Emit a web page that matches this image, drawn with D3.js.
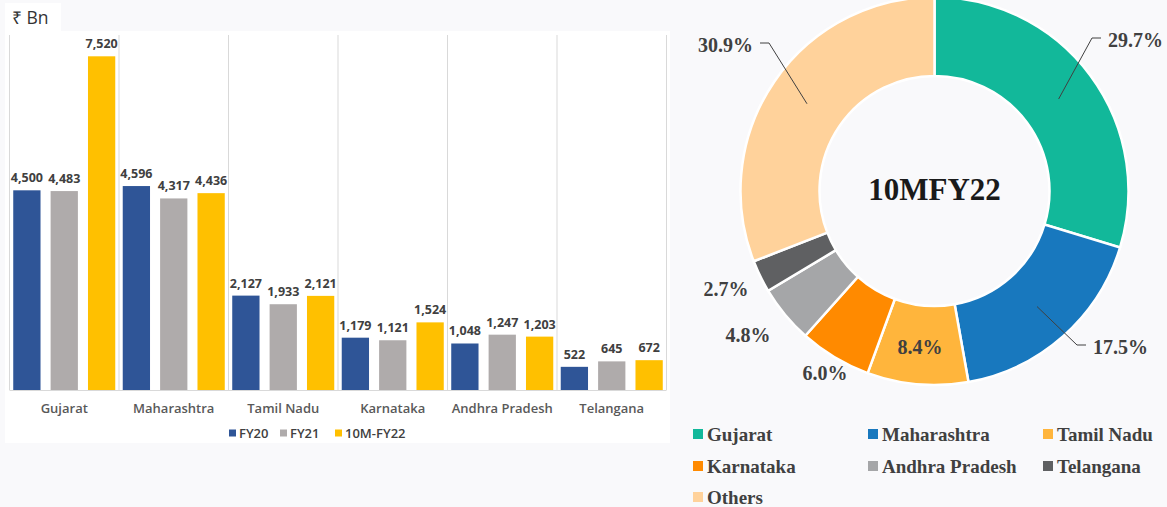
<!DOCTYPE html>
<html>
<head>
<meta charset="utf-8">
<script src="https://cdn.jsdelivr.net/npm/d3@7"></script>
<style>
  body { margin: 0; background: #f9f9fb; }
  #chart { width: 1167px; height: 507px; }
  .barLabel { font-family: "Open Sans", sans-serif; font-weight: 700; font-size: 12.5px; fill: #404040; }
  .catLabel { font-family: "Open Sans", sans-serif; font-weight: 600; font-size: 13px; fill: #595959; }
  .legendBar { font-family: "Open Sans", sans-serif; font-weight: 600; font-size: 13px; fill: #404040; }
  .pieText { font-family: "Liberation Serif", "Times New Roman", serif; font-weight: 700; fill: #404040; }
</style>
</head>
<body>
<div id="chart"></div>
<script>

// bar chart data (₹ Bn)
const states = ["Gujarat", "Maharashtra", "Tamil Nadu", "Karnataka", "Andhra Pradesh", "Telangana"];
const seriesNames = ["FY20", "FY21", "10M-FY22"];
const fy20 = [4500, 4596, 2127, 1179, 1048, 522];
const fy21 = [4483, 4317, 1933, 1121, 1247, 645];
const fy22 = [7520, 4436, 2121, 1524, 1203, 672];
const barColors = ["#2f5597", "#afabab", "#ffc000"];

// donut data (share of 10MFY22, %)
const shareNames = ["Gujarat", "Maharashtra", "Tamil Nadu", "Karnataka", "Andhra Pradesh", "Telangana", "Others"];
const shareValues = [29.7, 17.5, 8.4, 6.0, 4.8, 2.7, 30.9];
const shareColors = ["#12b89a", "#1878be", "#ffb53c", "#ff8a00", "#a5a6a8", "#5f6062", "#ffd29b"];

const width = 1167;
const height = 507;

const svg = d3.select("#chart")
  .append("svg")
  .attr("width", width)
  .attr("height", height);

/*
  LEFT: GROUPED BAR CHART
*/
svg.append("rect")
  .attr("x", 5).attr("y", 31)
  .attr("width", 665).attr("height", 412)
  .attr("fill", "#ffffff");

svg.append("rect")
  .attr("x", 5).attr("y", 3)
  .attr("width", 56).attr("height", 28)
  .attr("fill", "#ffffff");

svg.append("text")
  .attr("x", 12).attr("y", 24)
  .attr("font-family", "Open Sans, sans-serif")
  .attr("font-size", 17.5)
  .attr("fill", "#333333")
  .text("₹ Bn");

const x0 = d3.scaleBand()
  .domain(states)
  .range([9.5, 666.5])
  .paddingInner(0)
  .paddingOuter(0);

const x1 = d3.scaleBand()
  .domain(seriesNames)
  .range([0, x0.bandwidth()])
  .paddingInner(0.27)
  .paddingOuter(0.1);

const yScale = d3.scaleLinear()
  .domain([0, 8000])
  .range([390, 35]);

// vertical category separators
const sepXs = states.map(function (d) { return x0(d); }).concat([x0.range()[1]]);
svg.selectAll("line.sep")
  .data(sepXs)
  .enter()
  .append("line")
  .attr("class", "sep")
  .attr("x1", function (d) { return d; })
  .attr("x2", function (d) { return d; })
  .attr("y1", 35)
  .attr("y2", 390)
  .attr("stroke", "#d9d9d9")
  .attr("stroke-width", 1);

const barData = [];
states.forEach(function (s, i) {
  [fy20, fy21, fy22].forEach(function (arr, j) {
    barData.push({ state: s, series: seriesNames[j], value: arr[i], color: barColors[j] });
  });
});

svg.selectAll("rect.bar")
  .data(barData)
  .enter()
  .append("rect")
  .attr("class", "bar")
  .attr("x", function (d) { return x0(d.state) + x1(d.series); })
  .attr("y", function (d) { return yScale(d.value); })
  .attr("width", x1.bandwidth())
  .attr("height", function (d) { return yScale(0) - yScale(d.value); })
  .attr("fill", function (d) { return d.color; });

svg.selectAll("text.barLabel")
  .data(barData)
  .enter()
  .append("text")
  .attr("class", "barLabel")
  .attr("x", function (d) { return x0(d.state) + x1(d.series) + x1.bandwidth() / 2; })
  .attr("y", function (d) { return yScale(d.value) - 8; })
  .attr("text-anchor", "middle")
  .text(function (d) { return d3.format(",")(d.value); });

// baseline
svg.append("line")
  .attr("x1", 9.5).attr("x2", 666.5)
  .attr("y1", 390.5).attr("y2", 390.5)
  .attr("stroke", "#d9d9d9");

svg.selectAll("text.catLabel")
  .data(states)
  .enter()
  .append("text")
  .attr("class", "catLabel")
  .attr("x", function (d) { return x0(d) + x0.bandwidth() / 2; })
  .attr("y", 413)
  .attr("text-anchor", "middle")
  .text(function (d) { return d; });

// bar legend
const barLegendX = [229, 280, 335];
const barLegend = svg.selectAll("g.barLegend")
  .data(seriesNames)
  .enter()
  .append("g")
  .attr("class", "barLegend")
  .attr("transform", function (d, i) { return `translate(${barLegendX[i]},433)`; });

barLegend.append("rect")
  .attr("x", 0).attr("y", -3.5)
  .attr("width", 7).attr("height", 7)
  .attr("fill", function (d, i) { return barColors[i]; });

barLegend.append("text")
  .attr("class", "legendBar")
  .attr("x", 10)
  .attr("y", 5)
  .text(function (d) { return d; });

/*
  RIGHT: DONUT CHART
*/
const cx = 934.5;
const cy = 191;
const outerR = 194;
const innerR = 115;

const pie = d3.pie()
  .sort(null)
  .value(function (d) { return d.value; });

const pieData = pie(shareNames.map(function (n, i) {
  return { name: n, value: shareValues[i], color: shareColors[i] };
}));

const arc = d3.arc()
  .innerRadius(innerR)
  .outerRadius(outerR);

const donut = svg.append("g")
  .attr("transform", `translate(${cx},${cy})`);

donut.selectAll("path")
  .data(pieData)
  .enter()
  .append("path")
  .attr("d", arc)
  .attr("fill", function (d) { return d.data.color; })
  .attr("stroke", "#ffffff")
  .attr("stroke-width", 2.5);

donut.append("text")
  .attr("class", "pieText")
  .attr("x", 0)
  .attr("y", 9)
  .attr("text-anchor", "middle")
  .attr("font-size", 31)
  .style("fill", "#1a1a1a")
  .text("10MFY22");

// label positions relative to the donut centre (dx = text edge, dy = text middle)
const labelPos = [
  { dx: 173.5, dy: -151, anchor: "start", leader: true },
  { dx: 158.5, dy: 156, anchor: "start", leader: true },
  { dx: -14.5, dy: 156, anchor: "middle", leader: false },
  { dx: -109.5, dy: 182, anchor: "middle", leader: false },
  { dx: -186.5, dy: 144, anchor: "middle", leader: false },
  { dx: -208.5, dy: 98, anchor: "middle", leader: false },
  { dx: -181.5, dy: -146, anchor: "end", leader: true }
];

const midArc = d3.arc().innerRadius((innerR + outerR) / 2).outerRadius((innerR + outerR) / 2);

donut.selectAll("text.pct")
  .data(pieData)
  .enter()
  .append("text")
  .attr("class", "pieText pct")
  .attr("x", function (d, i) { return labelPos[i].dx; })
  .attr("y", function (d, i) { return labelPos[i].dy + 7; })
  .attr("text-anchor", function (d, i) { return labelPos[i].anchor; })
  .attr("font-size", 20)
  .text(function (d) { return d.data.value.toFixed(1) + "%"; });

// leader lines: ring middle -> elbow -> short horizontal toward the label
donut.selectAll("polyline")
  .data(pieData.filter(function (d, i) { return labelPos[i].leader; }))
  .enter()
  .append("polyline")
  .attr("points", function (d) {
    const i = pieData.indexOf(d);
    const p = midArc.centroid(d);
    const lp = labelPos[i];
    const side = lp.anchor === "end" ? 1 : -1;
    const ex = lp.dx + side * 7;
    const kx = ex + side * 9;
    const ly = lp.dy - 2;
    return [[p[0], p[1]], [kx, ly], [ex, ly]].map(function (q) { return q.join(","); }).join(" ");
  })
  .attr("fill", "none")
  .attr("stroke", "#404040")
  .attr("stroke-width", 1);

// donut legend, three columns
const legendCols = [693, 868, 1043];
const legendRows = [434, 466, 497];

const pieLegend = svg.selectAll("g.pieLegend")
  .data(pieData)
  .enter()
  .append("g")
  .attr("class", "pieLegend")
  .attr("transform", function (d, i) { return `translate(${legendCols[i % 3]},${legendRows[Math.floor(i / 3)]})`; });

pieLegend.append("rect")
  .attr("x", 0).attr("y", -5)
  .attr("width", 10).attr("height", 10)
  .attr("fill", function (d) { return d.data.color; });

pieLegend.append("text")
  .attr("class", "pieText")
  .attr("x", 14)
  .attr("y", 6.5)
  .attr("font-size", 19)
  .text(function (d) { return d.data.name; });

</script>
</body>
</html>
